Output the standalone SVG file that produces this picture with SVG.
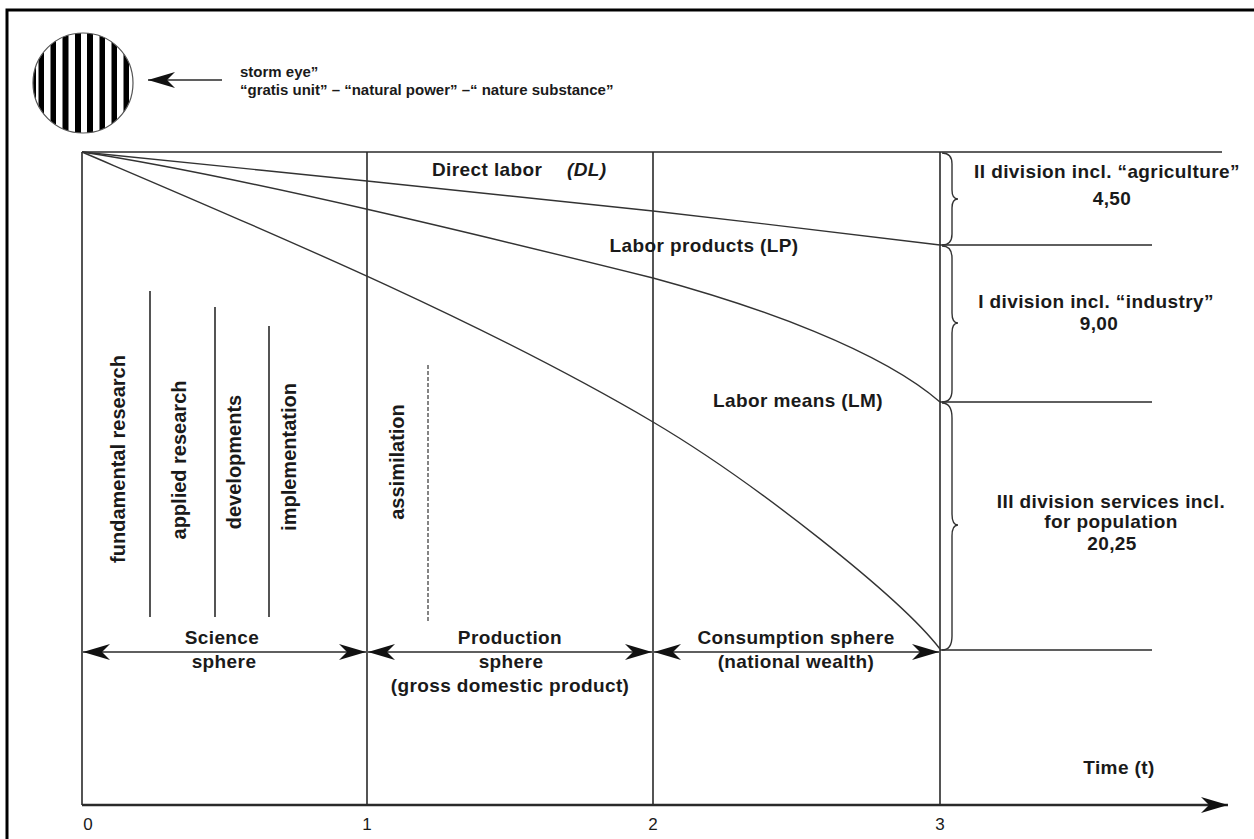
<svg xmlns="http://www.w3.org/2000/svg" width="1254" height="839" viewBox="0 0 1254 839">
<style>
.t{font-family:"Liberation Sans",Arial,sans-serif;font-weight:bold;font-size:19px;letter-spacing:0.4px;fill:#1a1a1a}
.s{font-size:15px;letter-spacing:0}
.v{font-size:20px;letter-spacing:0}
.n{font-family:"Liberation Sans",Arial,sans-serif;font-size:17px;fill:#1a1a1a;text-anchor:middle}
.m{text-anchor:middle}
.ln{stroke:#2a2a2a;stroke-width:1.6;fill:none}
.cv{stroke:#333;stroke-width:1.4;fill:none}
.br{stroke:#333;stroke-width:1.4;fill:none}
</style>
<defs>
<marker id="ah" viewBox="-30 -10 32 20" refX="0" refY="0" markerWidth="32" markerHeight="20" orient="auto-start-reverse" markerUnits="userSpaceOnUse">
<path d="M0,0 L-27,-8 L-19,0 L-27,8 Z" fill="#111"/>
</marker>
<clipPath id="eye"><circle cx="83" cy="83" r="50"/></clipPath>
</defs>
<rect x="0" y="0" width="1254" height="839" fill="#fff"/>
<rect x="7" y="10" width="1260" height="900" fill="none" stroke="#000" stroke-width="3"/>

<g id="storm-eye">
<circle cx="83" cy="83" r="50" fill="#fff"/>
<g clip-path="url(#eye)" fill="#000">
<rect x="32" y="30" width="4" height="110"/>
<rect x="38.5" y="30" width="5.5" height="110"/>
<rect x="50.5" y="30" width="5.5" height="110"/>
<rect x="62.5" y="30" width="6" height="110"/>
<rect x="75" y="30" width="6" height="110"/>
<rect x="87" y="30" width="6" height="110"/>
<rect x="99.5" y="30" width="5.5" height="110"/>
<rect x="111.5" y="30" width="5.5" height="110"/>
<rect x="123.5" y="30" width="5.5" height="110"/>
</g>
<circle cx="83" cy="83" r="50" fill="none" stroke="#555" stroke-width="1.2"/>
</g>

<g id="storm-label">
<text class="t s" x="240" y="77">storm eye”</text>
<text class="t s" x="240" y="95">“gratis unit” – “natural power” –“ nature substance”</text>
</g>

<g id="frame-lines">
<line class="ln" x1="82" y1="152" x2="1222" y2="152"/>
<line class="ln" x1="82" y1="152" x2="82" y2="805"/>
<line class="ln" x1="367" y1="152" x2="367" y2="805"/>
<line class="ln" x1="653" y1="152" x2="653" y2="805"/>
<line class="ln" x1="940" y1="152" x2="940" y2="805"/>
<line class="ln" x1="940" y1="245" x2="1152" y2="245"/>
<line class="ln" x1="940" y1="402" x2="1152" y2="402"/>
<line class="ln" x1="940" y1="650" x2="1152" y2="650"/>
</g>

<g id="science-stages">
<line class="ln" x1="150" y1="291" x2="150" y2="617"/>
<line class="ln" x1="215" y1="307" x2="215" y2="617"/>
<line class="ln" x1="269" y1="326" x2="269" y2="617"/>
<line x1="428" y1="365" x2="428" y2="623" stroke="#666" stroke-width="1.6" stroke-dasharray="4,2"/>
<text class="t v m" transform="translate(125,459) rotate(-90)">fundamental research</text>
<text class="t v m" transform="translate(186,460) rotate(-90)">applied research</text>
<text class="t v m" transform="translate(241,462) rotate(-90)">developments</text>
<text class="t v m" transform="translate(296,457) rotate(-90)">implementation</text>
<text class="t v m" transform="translate(404,462) rotate(-90)">assimilation</text>
</g>

<g id="curves">
<path id="dl" class="cv" d="M82,152 C129.5,156.8 271.8,171.2 367,181 C462.2,190.8 557.5,200.3 653,211 C748.5,221.7 892.2,239.3 940,245"/>
<path id="lp" class="cv" d="M82,152 C240,176 500,240 653,278 C760,307 880,350 940,402"/>
<path id="lm" class="cv" d="M82,152 C260,228 480,320 653,422 C753,481 900,597 940,649"/>
</g>

<g id="curve-labels">
<text class="t" x="432" y="176">Direct labor</text>
<text class="t" x="567" y="176" font-style="italic">(DL)</text>
<text class="t m" x="704" y="252">Labor products (LP)</text>
<text class="t m" x="798" y="407">Labor means (LM)</text>
</g>

<g id="braces">
<path class="br" d="M942,153 Q952,153 952,164 L952,190 Q952,199 958,199 Q952,199 952,208 L952,234 Q952,245 942,245"/>
<path class="br" d="M942,246 Q952,246 952,258 L952,313 Q952,323 958,323 Q952,323 952,333 L952,390 Q952,402 942,402"/>
<path class="br" d="M942,403 Q952,403 952,418 L952,514 Q952,525 958,525 Q952,525 952,536 L952,636 Q952,650 942,650"/>
</g>

<g id="divisions">
<text class="t m" x="1107" y="178">II division incl. “agriculture”</text>
<text class="t m" x="1112" y="205">4,50</text>
<text class="t m" x="1096" y="308">I division incl. “industry”</text>
<text class="t m" x="1099" y="330">9,00</text>
<text class="t m" x="1111" y="508">III division services incl.</text>
<text class="t m" x="1111" y="528">for population</text>
<text class="t m" x="1112" y="550">20,25</text>
</g>

<g id="connectors">
<line class="ln" x1="222" y1="80" x2="148" y2="80" marker-end="url(#ah)"/>
<line class="ln" x1="83" y1="652" x2="366" y2="652" marker-start="url(#ah)" marker-end="url(#ah)"/>
<line class="ln" x1="368" y1="652" x2="652" y2="652" marker-start="url(#ah)" marker-end="url(#ah)"/>
<line class="ln" x1="654" y1="652" x2="939" y2="652" marker-start="url(#ah)" marker-end="url(#ah)"/>
<line x1="82" y1="805" x2="1228" y2="805" stroke="#2a2a2a" stroke-width="2.4" marker-end="url(#ah)"/>
</g>

<g id="spheres">
<text class="t m" x="222" y="644">Science</text>
<text class="t m" x="224" y="668">sphere</text>
<text class="t m" x="510" y="644">Production</text>
<text class="t m" x="511" y="668">sphere</text>
<text class="t m" x="510" y="692">(gross domestic product)</text>
<text class="t m" x="796" y="644">Consumption sphere</text>
<text class="t m" x="796" y="668">(national wealth)</text>
</g>

<g id="axis-labels">
<text class="n" x="88" y="830">0</text>
<text class="n" x="367" y="830">1</text>
<text class="n" x="653" y="830">2</text>
<text class="n" x="940" y="830">3</text>
<text class="t m" x="1119" y="774">Time (t)</text>
</g>
</svg>
